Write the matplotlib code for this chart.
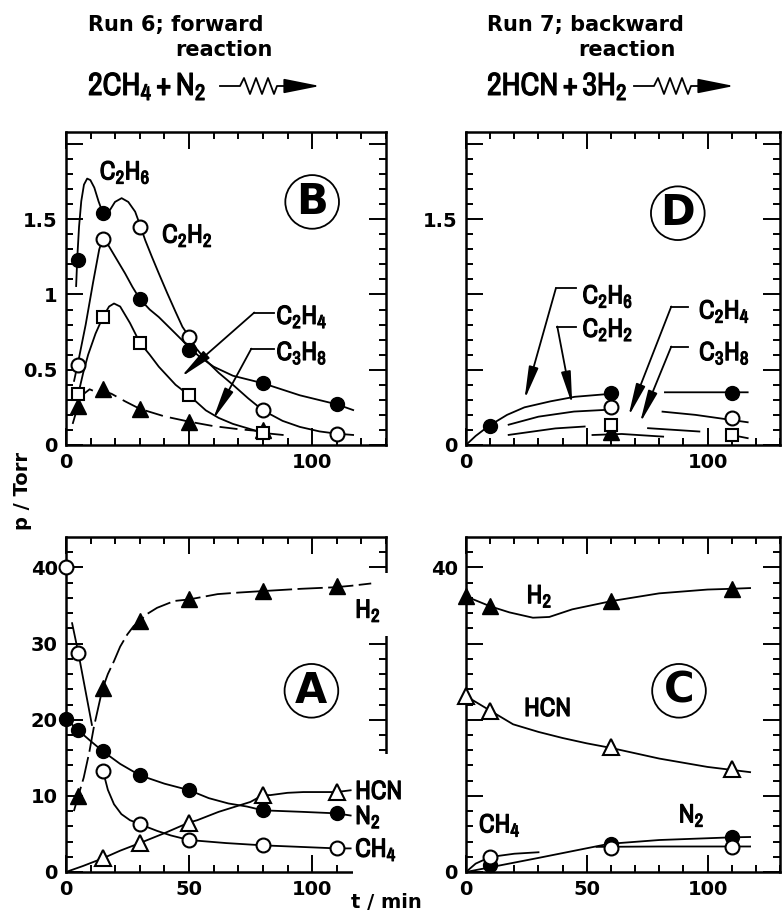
import numpy as np
import matplotlib
matplotlib.use('Agg')
import matplotlib.pyplot as plt
import matplotlib.patheffects as pe
from matplotlib import font_manager
from matplotlib.lines import Line2D
from matplotlib.patches import Rectangle, FancyArrowPatch

nan = np.nan

# ============================================================
# DATA  -  Run 6, forward reaction (panels A, B)
# ============================================================

# panel A : main species
a_t = [0, 5, 15, 30, 50, 80, 110]
a_ch4 = [40.0, 28.8, 13.3, 6.3, 4.2, 3.5, 3.1]
a_n2 = [20.1, 18.6, 15.85, 12.7, 10.75, 8.1, 7.7]
a_h2_t = [5, 15, 30, 50, 80, 110]
a_h2 = [10.0, 24.2, 33.0, 35.8, 36.9, 37.5]
a_hcn_t = [15, 30, 50, 80, 110]
a_hcn = [1.8, 3.8, 6.5, 10.1, 10.5]

# hand drawn curves (traced)
a_h2_curve_t = [3.2, 5, 7.2, 9.5, 11.3, 14, 15, 17, 19.5, 22, 24.9, 27.5, 30, 33, 37, 44, 50, 61.6, 70, 80, 95.6, 109.3, 116, 124]
a_h2_curve_p = [8.0, 10.0, 12.4, 15.8, 19.0, 22.9, 24.2, 26.0, 27.7, 29.6, 31.2, 32.3, 33.0, 33.9, 34.7, 35.6, 35.8, 36.5, 36.7, 36.9, 37.2, 37.4, 37.6, 37.9]
a_n2_curve_t = [0, 5, 10, 15, 22, 30, 40, 50, 58, 66, 73.5, 80, 96, 110, 116]
a_n2_curve_p = [20.1, 18.6, 17.2, 15.85, 14.2, 12.7, 11.6, 10.75, 9.7, 9.0, 8.6, 8.1, 7.9, 7.7, 7.4]
a_ch4_curve_t = [2.4, 5, 7.8, 10.6, nan, 15, 17, 19.5, 22.5, 26, 30, 33, 37, 42.6, 50, 65, 80, 95, 110, 116]
a_ch4_curve_p = [32.8, 28.8, 24.0, 19.2, nan, 13.3, 10.8, 8.9, 7.6, 6.8, 6.3, 5.9, 5.4, 4.8, 4.2, 3.8, 3.5, 3.3, 3.1, 3.1]
a_hcn_curve_t = [0, 7, 15, 22, 30, 40, 50, 53.3, 62, 74.9, 80, 83, 90, 96.4, 110, 116]
a_hcn_curve_p = [0, 0.8, 1.8, 2.8, 3.8, 5.1, 6.5, 6.8, 7.9, 9.2, 10.1, 10.1, 10.4, 10.5, 10.5, 10.75]

# panel B : hydrocarbons
b_t = [5, 15, 30, 50, 80, 110]
b_c2h6 = [1.23, 1.54, 0.97, 0.63, 0.41, 0.27]
b_c2h2 = [0.53, 1.37, 1.45, 0.72, 0.23, 0.07]
b_c2h4_t = [5, 15, 30, 50, 80]
b_c2h4 = [0.34, 0.85, 0.68, 0.33, 0.08]
b_c3h8_t = [5, 15, 30, 50, 80]
b_c3h8 = [0.26, 0.37, 0.24, 0.155, 0.10]

b_curve1_t = [4.1, 4.6, 5.3, 6.2, 7.3, 8.6, 9.9, 11.5, 13.2, 15, 17.8, 19.9, 22.6, 25.3, 28.1, 30.1, 32.2, 34.9, 37.7, 41.1, 44.5, 47.3, 49.6]
b_curve1_p = [1.05, 1.25, 1.45, 1.62, 1.73, 1.77, 1.76, 1.71, 1.62, 1.54, 1.56, 1.615, 1.64, 1.615, 1.55, 1.46, 1.36, 1.25, 1.14, 1.01, 0.885, 0.785, 0.73]
b_curve2_t = [3.2, 4.8, 8, 11, 13.5, 15, 17.1, 20, 24, 27, 30, 34, 37.7, 44.5, 50, 54, 60, 67.8, 80, 95, 110, 117]
b_curve2_p = [0.42, 0.54, 0.80, 1.08, 1.30, 1.37, 1.33, 1.25, 1.14, 1.05, 0.97, 0.90, 0.85, 0.74, 0.65, 0.59, 0.52, 0.46, 0.41, 0.33, 0.27, 0.23]
b_curve3_t = [50, 53, 57, 62, 67.8, 74, 80, 88, 95, 103, 110, 117]
b_curve3_p = [0.72, 0.64, 0.56, 0.48, 0.40, 0.31, 0.23, 0.16, 0.12, 0.09, 0.075, 0.066]
b_c2h4_curve_t = [2.5, 5, 7, 9, 12, 15, 17.5, 19.5, 22, 26, 30, 34, 37.7, 44.5, 50, 56.8, 62, 67.8, 76, 80, 88.4]
b_c2h4_curve_p = [0.30, 0.34, 0.48, 0.60, 0.74, 0.85, 0.92, 0.94, 0.92, 0.81, 0.68, 0.60, 0.52, 0.40, 0.33, 0.23, 0.18, 0.14, 0.10, 0.08, 0.066]
b_c3h8_curve_t = [2.7, 4.5, 6.5, 9.6, 12.5, 15, 18.5, 24, 30, 40, 50, 60, 70, 80]
b_c3h8_curve_p = [0.14, 0.24, 0.33, 0.37, 0.35, 0.36, 0.34, 0.29, 0.24, 0.19, 0.155, 0.125, 0.105, 0.09]

# ============================================================
# DATA  -  Run 7, backward reaction (panels C, D)
# ============================================================

c_t = [0, 10, 60, 110]
c_h2 = [36.2, 34.9, 35.6, 37.2]
c_hcn = [23.1, 21.2, 16.4, 13.5]
c_low_t = [10, 60, 110]
c_ch4 = [2.0, 3.2, 3.3]
c_n2 = [0.9, 3.7, 4.6]

c_h2_curve_t = [0, 10, 18, 27.7, 34.5, 44, 60.5, 80, 100, 110, 118]
c_h2_curve_p = [36.2, 34.9, 34.1, 33.4, 33.5, 34.5, 35.6, 36.6, 37.1, 37.2, 37.3]
c_hcn_curve_t = [0, 10, 19.5, 30, 40, 50, 60, 80, 100, 118]
c_hcn_curve_p = [23.1, 21.2, 19.4, 18.4, 17.6, 16.9, 16.3, 14.9, 13.8, 13.1]
c_ch4_curve_t = [0, 4, 10, 20, 30.4, nan, 53.7, 80, 110, 118]
c_ch4_curve_p = [0, 1.1, 1.97, 2.4, 2.6, nan, 3.3, 3.35, 3.35, 3.35]
c_n2_curve_t = [0, 30, 59.2, 80, 110, 118]
c_n2_curve_p = [0, 1.85, 3.7, 4.2, 4.55, 4.6]

d_t = [10, 60, 110]
d_c2h6 = [0.126, 0.343, 0.343]
d_t2 = [60, 110]
d_c2h2 = [0.25, 0.177]
d_c2h4 = [0.133, 0.066]
d_c3h8_t = [60]
d_c3h8 = [0.085]

d_c2h6_curve_t = [0, 4, 9.4, 17, 24.2, 35, 45, 60, nan, 82, 117]
d_c2h6_curve_p = [0, 0.06, 0.126, 0.20, 0.25, 0.29, 0.32, 0.34, nan, 0.35, 0.35]
d_c2h2_curve_t = [17.3, 30, 44.7, 57.6, nan, 81, 95, 117]
d_c2h2_curve_p = [0.133, 0.188, 0.222, 0.233, nan, 0.222, 0.20, 0.15]
d_c2h4_curve_t = [17.3, 37, 49.5, nan, 75, 97, nan, 110, 117]
d_c2h4_curve_p = [0.066, 0.11, 0.123, nan, 0.112, 0.089, nan, 0.066, 0.044]
d_c3h8_curve_t = [52, 64.5, 82]
d_c3h8_curve_p = [0.066, 0.073, 0.055]

# ============================================================
# STYLE
# ============================================================

# prefer a narrow face for the formulas if one is installed
CHEM = 'DejaVu Sans:weight=bold'
NARROW = False
for f in font_manager.fontManager.ttflist:
    if 'Narrow' in f.name:
        CHEM = f.name + ':weight=bold'
        NARROW = True
        break

plt.rcParams['font.family'] = ['DejaVu Sans']
plt.rcParams['font.weight'] = 'bold'
plt.rcParams['mathtext.fontset'] = 'custom'
plt.rcParams['mathtext.rm'] = CHEM
plt.rcParams['mathtext.it'] = CHEM
plt.rcParams['mathtext.bf'] = CHEM
plt.rcParams['mathtext.default'] = 'rm'

# thicken the narrow face so it reads as bold
HEAVY = [pe.withStroke(linewidth=0.8 if NARROW else 0.01, foreground='black')]
CHEM_SIZE = 19 if NARROW else 16
EQ_SIZE = 23 if NARROW else 17

LW = 1.3

FILLED_CIRCLE = dict(marker='o', ms=10, mfc='black', mec='black')
OPEN_CIRCLE = dict(marker='o', ms=10, mfc='white', mec='black', mew=1.5)
OPEN_SQUARE = dict(marker='s', ms=8.5, mfc='white', mec='black', mew=1.5)
FILLED_TRI = dict(marker='^', ms=11, mfc='black', mec='black')
OPEN_TRI = dict(marker='^', ms=11, mfc='white', mec='black', mew=1.5)

# ============================================================
# HELPERS
# ============================================================

def curve(ax, t, p, dashes=None):

    line, = ax.plot(t, p, color='black', lw=LW, zorder=3,
                    solid_capstyle='butt')

    if dashes is not None:
        line.set_dashes(dashes)

# ------------------------------------------------------------

def points(ax, t, p, style):

    ax.plot(t, p, linestyle='none', zorder=4, clip_on=False, **style)

# ------------------------------------------------------------

def chem(ax, x, y, s, ha='center'):

    ax.text(x, y, '$' + s + '$', fontsize=CHEM_SIZE, ha=ha, va='center',
            zorder=6, path_effects=HEAVY)

# ------------------------------------------------------------

def pointer(ax, start, elbow, tip):

    ax.plot([start[0], elbow[0]], [start[1], elbow[1]],
            color='black', lw=LW, zorder=3)

    ax.annotate('', xy=tip, xytext=elbow,
                arrowprops=dict(arrowstyle='-|>,head_length=1.1,head_width=0.16',
                                color='black', lw=LW, mutation_scale=18,
                                shrinkA=0, shrinkB=0),
                zorder=3)

# ------------------------------------------------------------

def badge(ax, x, y, letter):

    ax.text(x, y, letter, fontsize=30, ha='center', va='center',
            fontweight='heavy', zorder=6,
            bbox=dict(boxstyle='circle,pad=0.14', fc='white',
                      ec='black', lw=1.3))

# ------------------------------------------------------------

def frame(ax, ytop, ymajor, ylabels, ystep, xlabels):

    ax.set_xlim(0, 130)
    ax.set_ylim(0, ytop)

    ax.set_xticks([0, 50, 100])
    ax.set_xticklabels(xlabels)
    ax.set_xticks(np.arange(0, 131, 10), minor=True)

    ax.set_yticks(ymajor)
    ax.set_yticklabels(ylabels)
    ax.set_yticks(np.arange(0, ytop, ystep), minor=True)

    ax.tick_params(which='both', direction='in', top=True, right=True,
                   width=1.4, labelsize=14, pad=6)
    ax.tick_params(which='major', length=12)
    ax.tick_params(which='minor', length=5)

    for s in ax.spines.values():
        s.set_linewidth(1.8)

# ------------------------------------------------------------

W, H = 782, 915

def px(x, y):

    return x / W, 1 - y / H

# ------------------------------------------------------------

def wavy_arrow(fig, x0, y0):

    xs = [x0, x0 + 20, x0 + 24, x0 + 30, x0 + 36, x0 + 42, x0 + 48,
          x0 + 54, x0 + 57, x0 + 76]
    ys = [y0, y0, y0 - 8, y0 + 8, y0 - 8, y0 + 8, y0 - 8, y0 + 8, y0, y0]

    fig.add_artist(Line2D([x / W for x in xs], [1 - y / H for y in ys],
                          color='black', lw=1.3,
                          transform=fig.transFigure))

    fig.add_artist(FancyArrowPatch(px(x0 + 72, y0), px(x0 + 100, y0),
                                   transform=fig.transFigure,
                                   arrowstyle='-|>,head_length=1.6,head_width=0.32',
                                   mutation_scale=14, color='black',
                                   lw=1.3, shrinkA=0, shrinkB=0))

# ============================================================
# FIGURE
# ============================================================

fig = plt.figure(figsize=(7.82, 9.15), dpi=100)

ax_b = fig.add_axes([0.0844, 0.5137, 0.4092, 0.3421])
ax_d = fig.add_axes([0.5959, 0.5137, 0.4015, 0.3421])
ax_a = fig.add_axes([0.0844, 0.0470, 0.4092, 0.3661])
ax_c = fig.add_axes([0.5959, 0.0470, 0.4015, 0.3661])

# ------------------------------------------------------------
# B
# ------------------------------------------------------------

frame(ax_b, 2.08, [0, 0.5, 1, 1.5, 2.0], ['0', '0.5', '1', '1.5', ''],
      0.1, ['0', '', '100'])

curve(ax_b, b_curve1_t, b_curve1_p)
curve(ax_b, b_curve2_t, b_curve2_p)
curve(ax_b, b_curve3_t, b_curve3_p)
curve(ax_b, b_c2h4_curve_t, b_c2h4_curve_p)
curve(ax_b, b_c3h8_curve_t, b_c3h8_curve_p, dashes=(10, 4))

points(ax_b, b_c3h8_t, b_c3h8, FILLED_TRI)
points(ax_b, b_c2h4_t, b_c2h4, OPEN_SQUARE)
points(ax_b, b_t, b_c2h2, OPEN_CIRCLE)
points(ax_b, b_t, b_c2h6, FILLED_CIRCLE)

chem(ax_b, 24, 1.81, 'C_2H_6')
chem(ax_b, 49.3, 1.39, 'C_2H_2')
chem(ax_b, 85.5, 0.85, 'C_2H_4', ha='left')
chem(ax_b, 85.5, 0.61, 'C_3H_8', ha='left')

pointer(ax_b, (84.5, 0.88), (76.5, 0.88), (46.6, 0.45))
pointer(ax_b, (84.5, 0.64), (75.3, 0.64), (59.6, 0.166))

badge(ax_b, 100, 1.615, 'B')

# ------------------------------------------------------------
# D
# ------------------------------------------------------------

frame(ax_d, 2.08, [0, 0.5, 1, 1.5, 2.0], ['0', '', '', '1.5', ''],
      0.1, ['0', '', '100'])

curve(ax_d, d_c2h6_curve_t, d_c2h6_curve_p)
curve(ax_d, d_c2h2_curve_t, d_c2h2_curve_p)
curve(ax_d, d_c2h4_curve_t, d_c2h4_curve_p)
curve(ax_d, d_c3h8_curve_t, d_c3h8_curve_p)

points(ax_d, d_c3h8_t, d_c3h8, FILLED_TRI)
points(ax_d, d_t2, d_c2h4, OPEN_SQUARE)
points(ax_d, d_t2, d_c2h2, OPEN_CIRCLE)
points(ax_d, d_t, d_c2h6, FILLED_CIRCLE)

chem(ax_d, 58.7, 0.986, 'C_2H_6')
chem(ax_d, 58.7, 0.764, 'C_2H_2')
chem(ax_d, 107, 0.886, 'C_2H_4')
chem(ax_d, 107, 0.609, 'C_3H_8')

pointer(ax_d, (45.4, 1.04), (37.2, 1.04), (24.2, 0.30))
pointer(ax_d, (45.4, 0.787), (37.8, 0.787), (44.0, 0.266))
pointer(ax_d, (91.8, 0.92), (85.0, 0.92), (67.2, 0.188))
pointer(ax_d, (91.8, 0.654), (85.0, 0.654), (72.0, 0.144))

badge(ax_d, 87.7, 1.54, 'D')

# ------------------------------------------------------------
# A
# ------------------------------------------------------------

frame(ax_a, 44, [0, 10, 20, 30, 40], ['0', '10', '20', '30', '40'],
      2, ['0', '50', '100'])

# the labels on the right cut through the frame
ax_a.add_patch(Rectangle((116.5, 31), 16, 8.3, fc='white', ec='none',
                         zorder=2.6, clip_on=False))
ax_a.add_patch(Rectangle((116.5, -1.0), 16, 16.5, fc='white', ec='none',
                         zorder=2.6, clip_on=False))

curve(ax_a, a_h2_curve_t, a_h2_curve_p, dashes=(14, 3))
curve(ax_a, a_n2_curve_t, a_n2_curve_p)
curve(ax_a, a_ch4_curve_t, a_ch4_curve_p)
curve(ax_a, a_hcn_curve_t, a_hcn_curve_p)

points(ax_a, a_hcn_t, a_hcn, OPEN_TRI)
points(ax_a, a_h2_t, a_h2, FILLED_TRI)
points(ax_a, a_t, a_ch4, OPEN_CIRCLE)
points(ax_a, a_t, a_n2, FILLED_CIRCLE)

chem(ax_a, 117.5, 34.3, 'H_2', ha='left')
chem(ax_a, 117.5, 10.5, 'HCN', ha='left')
chem(ax_a, 117.5, 7.2, 'N_2', ha='left')
chem(ax_a, 117.5, 2.9, 'CH_4', ha='left')

badge(ax_a, 99.7, 23.8, 'A')

# ------------------------------------------------------------
# C
# ------------------------------------------------------------

frame(ax_c, 44, [0, 10, 20, 30, 40], ['0', '', '', '', '40'],
      2, ['0', '50', '100'])

curve(ax_c, c_h2_curve_t, c_h2_curve_p)
curve(ax_c, c_hcn_curve_t, c_hcn_curve_p)
curve(ax_c, c_ch4_curve_t, c_ch4_curve_p)
curve(ax_c, c_n2_curve_t, c_n2_curve_p)

points(ax_c, c_t, c_hcn, OPEN_TRI)
points(ax_c, c_t, c_h2, FILLED_TRI)
points(ax_c, c_low_t, c_n2, FILLED_CIRCLE)
points(ax_c, c_low_t, c_ch4, OPEN_CIRCLE)

chem(ax_c, 30.4, 36.2, 'H_2')
chem(ax_c, 33.8, 21.4, 'HCN')
chem(ax_c, 14, 6.1, 'CH_4')
chem(ax_c, 93.4, 7.4, 'N_2')

badge(ax_c, 88.2, 23.8, 'C')

# ------------------------------------------------------------
# headers and shared labels
# ------------------------------------------------------------

fig.text(*px(88, 25), 'Run 6; forward', fontsize=15, ha='left', va='center')
fig.text(*px(175, 50), 'reaction', fontsize=15, ha='left', va='center')
fig.text(*px(88, 95), r'$2CH_4+N_2$', fontsize=EQ_SIZE, ha='left',
         va='baseline', path_effects=HEAVY)
wavy_arrow(fig, 220, 86)

fig.text(*px(487, 25), 'Run 7; backward', fontsize=15, ha='left', va='center')
fig.text(*px(578, 50), 'reaction', fontsize=15, ha='left', va='center')
fig.text(*px(487, 95), r'$2HCN+3H_2$', fontsize=EQ_SIZE, ha='left',
         va='baseline', path_effects=HEAVY)
wavy_arrow(fig, 634, 86)

fig.text(*px(22, 491), 'p / Torr', fontsize=14, rotation=90,
         ha='center', va='center')
fig.text(*px(386, 903), 't / min', fontsize=14, ha='center', va='center')

fig.savefig('out.png', dpi=100)
